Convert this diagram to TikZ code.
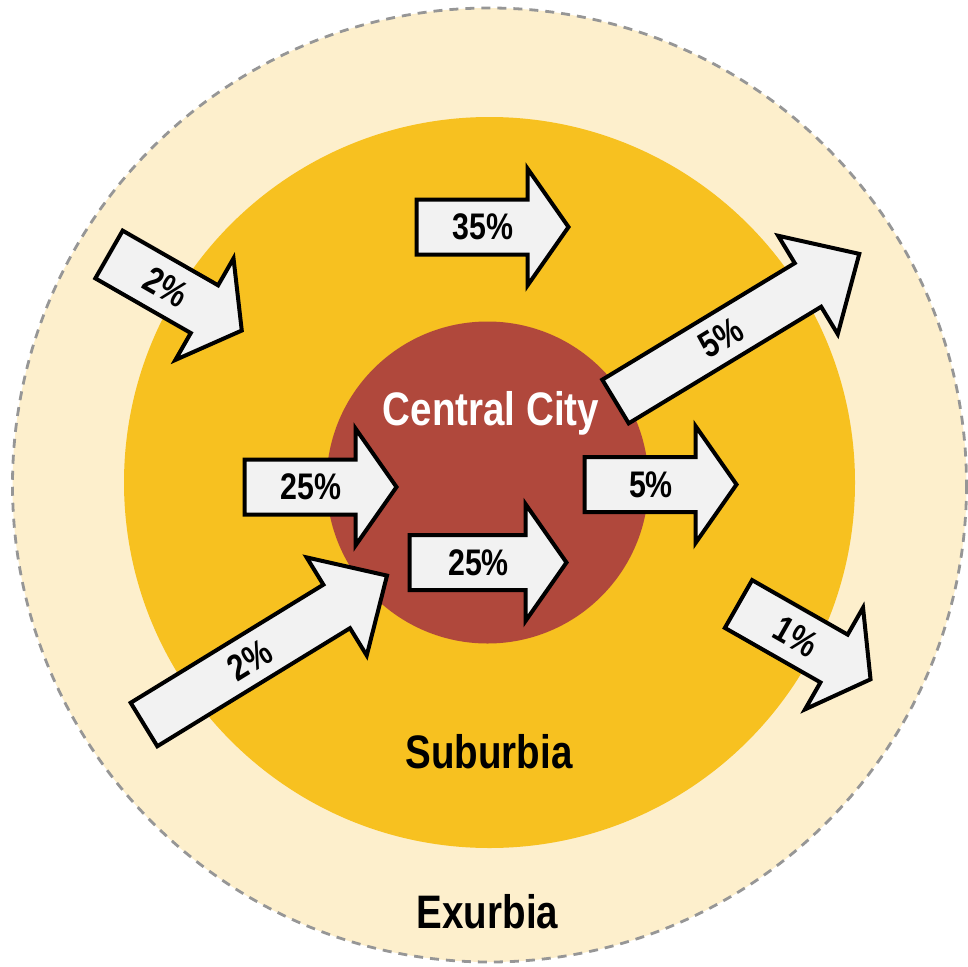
\documentclass[tikz,border=0pt]{standalone}
\usepackage{fontspec}
\setmainfont{Liberation Sans}[FakeStretch=0.82]
\definecolor{exurb}{RGB}{253,239,204}
\definecolor{suburb}{RGB}{247,193,32}
\definecolor{city}{RGB}{176,72,60}
\definecolor{arrowfill}{RGB}{242,242,242}
\definecolor{dashgray}{RGB}{150,150,150}
\tikzset{
  blockarrowstyle/.style={draw=black, fill=arrowfill, line width=4pt, line join=miter},
  pctlabel/.style={font=\bfseries\fontsize{37}{40}\selectfont, inner sep=0pt},
  zonelabel/.style={font=\bfseries\fontsize{47}{52}\selectfont, inner sep=0pt, anchor=base}
}
% #1 name, #2 x, #3 y, #4 angle, #5 length, #6 body half width, #7 head half width, #8 head length, #9 label
\newcommand{\blockarrow}[9]{%
  \begin{scope}[shift={(#2,#3)}, rotate=#4]
    \draw[blockarrowstyle] (0,-#6) -- ({#5-#8},-#6) -- ({#5-#8},-#7) -- (#5,0)
      -- ({#5-#8},#7) -- ({#5-#8},#6) -- (0,#6) -- cycle;
    \node[pctlabel, rotate=#4] (#1) at ({(#5-#8)/2+11},0) {#9};
  \end{scope}%
}
\begin{document}
\begin{tikzpicture}[x=1pt,y=-1pt]
\useasboundingbox (0,0) rectangle (968,966);
% zones
\fill[exurb] (489.5,485) circle (477);
\draw[dashgray, line width=2.8pt, dash pattern=on 9pt off 7pt] (489.5,485) circle (477);
\fill[suburb] (489.5,482.5) circle (365.5);
\fill[city] (487.5,482.5) circle (161);
% zone labels
\node[zonelabel, white] (central) at (491,425) {Central City};
\node[zonelabel] (suburbia) at (489,768) {Suburbia};
\node[zonelabel] (exurbia) at (487.5,928) {Exurbia};
% arrows
\blockarrow{a35}{416.5}{227}{0}{152}{27.5}{58.5}{41}{35\%}
\blockarrow{a25l}{244.5}{487}{0}{152}{27.5}{58.5}{41}{25\%}
\blockarrow{a25c}{409.5}{562.5}{0}{157}{27.5}{58.5}{41}{25\%}
\blockarrow{a5r}{584.5}{484.5}{0}{152}{27.5}{58.5}{41}{5\%}
\blockarrow{a2tl}{109}{254.5}{-29.8}{153}{27.5}{58.5}{43}{2\%}
\blockarrow{a1}{738.5}{604}{-29.7}{152}{27.5}{58.5}{42}{1\%}
\blockarrow{a5l}{615.5}{401.5}{31.2}{285}{25.5}{57.5}{60}{5\%}
\blockarrow{a2l}{144}{724.5}{31.5}{285}{25.5}{57.5}{59}{2\%}
\end{tikzpicture}
\end{document}
